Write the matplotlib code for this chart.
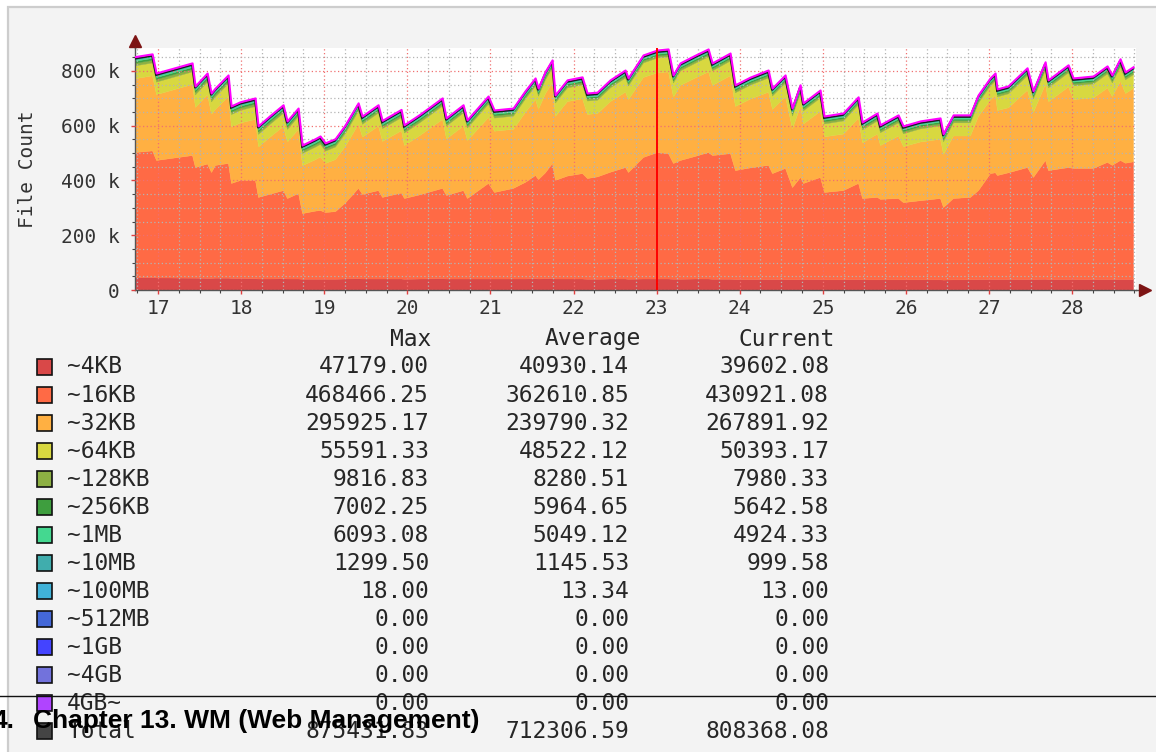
import numpy as np
import matplotlib
matplotlib.use("Agg")
import matplotlib.pyplot as plt
from matplotlib import transforms
from matplotlib.patches import Rectangle
from matplotlib.lines import Line2D
from matplotlib.ticker import MultipleLocator, FuncFormatter

W, H, DPI = 1156, 752, 100

# ---- time axis (day of month) ----
days = [16.723, 16.928, 16.976, 17.409, 17.445, 17.590, 17.638, 17.686, 17.842, 17.878, 17.987, 18.167,
        18.203, 18.348, 18.504, 18.552, 18.685, 18.733, 18.889, 18.949, 19.010, 19.130, 19.250, 19.407,
        19.455, 19.647, 19.696, 19.924, 19.960, 20.153, 20.418, 20.466, 20.670, 20.718, 20.971, 21.043,
        21.272, 21.416, 21.537, 21.573, 21.657, 21.741, 21.777, 21.922, 22.102, 22.162, 22.283, 22.439,
        22.620, 22.656, 22.836, 23.005, 23.137, 23.197, 23.282, 23.462, 23.619, 23.667, 23.883, 23.943,
        24.124, 24.341, 24.389, 24.545, 24.629, 24.726, 24.762, 24.966, 25.014, 25.243, 25.424, 25.472,
        25.652, 25.688, 25.905, 25.965, 26.170, 26.410, 26.447, 26.567, 26.771, 26.868, 27.012, 27.072,
        27.096, 27.229, 27.457, 27.529, 27.674, 27.710, 27.951, 28.011, 28.252, 28.420, 28.478, 28.576,
        28.637, 28.733]

# ---- file counts, in thousands ----
total = [845, 855, 785, 822, 738, 785, 712, 730, 778, 665, 680, 694,
         592, 630, 669, 610, 657, 522, 545, 555, 530, 545, 595, 676,
         628, 669, 612, 652, 596, 635, 694, 621, 669, 614, 701, 650,
         657, 720, 767, 730, 790, 833, 705, 760, 771, 712, 715, 760,
         796, 767, 851, 869, 873, 778, 822, 850, 873, 822, 858, 742,
         770, 796, 730, 778, 657, 742, 676, 723, 628, 639, 698, 606,
         639, 596, 632, 592, 610, 621, 563, 632, 632, 705, 767, 785,
         727, 738, 804, 720, 826, 760, 815, 767, 774, 811, 778, 837,
         789, 808]

kb4 = [46, 47, 46, 45, 45, 44, 44, 45, 45, 44, 44, 43,
       42, 42, 43, 42, 42, 41, 41, 41, 41, 41, 42, 43,
       42, 42, 42, 42, 41, 42, 43, 42, 42, 42, 42, 42,
       42, 42, 43, 42, 43, 44, 42, 42, 42, 41, 41, 42,
       42, 41, 42, 42, 42, 41, 41, 42, 42, 41, 41, 40,
       40, 40, 40, 40, 39, 40, 40, 40, 39, 39, 40, 39,
       39, 39, 39, 39, 39, 39, 38, 39, 39, 40, 40, 40,
       40, 40, 40, 40, 41, 40, 40, 40, 40, 40, 40, 40,
       40, 40]

kb16 = [458, 463, 429, 448, 404, 418, 387, 412, 419, 347, 358, 359,
        298, 310, 322, 294, 312, 240, 249, 251, 244, 247, 278, 330,
        309, 323, 298, 314, 295, 308, 330, 305, 323, 294, 349, 316,
        331, 353, 377, 363, 387, 420, 360, 376, 385, 368, 374, 390,
        407, 390, 444, 462, 458, 423, 434, 448, 462, 452, 459, 398,
        408, 417, 387, 406, 337, 373, 351, 373, 319, 326, 351, 297,
        301, 294, 297, 282, 289, 297, 265, 297, 301, 325, 387, 390,
        380, 390, 409, 373, 434, 398, 409, 406, 406, 428, 417, 435,
        425, 430]

kb64 = [47, 47, 46, 46, 46, 47, 45, 46, 47, 45, 46, 47,
        46, 47, 48, 46, 47, 45, 46, 46, 45, 46, 47, 48,
        47, 48, 47, 48, 46, 47, 49, 47, 48, 46, 49, 48,
        48, 49, 50, 48, 51, 53, 49, 50, 51, 49, 49, 50,
        52, 50, 53, 54, 55, 52, 53, 54, 55, 53, 54, 50,
        51, 52, 49, 50, 47, 49, 48, 49, 47, 48, 49, 47,
        48, 47, 48, 47, 48, 49, 46, 48, 48, 49, 51, 52,
        50, 51, 53, 50, 53, 51, 52, 50, 51, 52, 50, 53,
        50, 50]

kb128 = [9.8, 9.7, 9.6, 9.5, 9.4, 9.3, 9.3, 9.2, 9.1, 9.0, 9.0, 8.9,
         8.9, 8.8, 8.8, 8.7, 8.7, 8.6, 8.6, 8.6, 8.5, 8.5, 8.5, 8.4,
         8.4, 8.4, 8.3, 8.3, 8.3, 8.3, 8.2, 8.2, 8.2, 8.2, 8.1, 8.1,
         8.1, 8.1, 8.1, 8.0, 8.0, 8.0, 8.0, 8.0, 8.0, 7.9, 7.9, 7.9,
         7.9, 7.9, 7.9, 7.9, 7.9, 7.9, 7.9, 7.9, 7.9, 7.9, 7.9, 7.9,
         7.9, 7.9, 7.9, 7.9, 7.9, 8.0, 8.0, 8.0, 8.0, 8.0, 8.0, 8.0,
         8.0, 8.0, 8.0, 8.0, 8.0, 8.0, 8.0, 8.0, 8.0, 8.0, 8.0, 8.0,
         8.0, 8.0, 8.0, 8.0, 8.0, 8.0, 8.0, 8.0, 8.0, 8.0, 8.0, 8.0,
         8.0, 8.0]

kb256 = [7.0, 6.9, 6.9, 6.8, 6.8, 6.7, 6.7, 6.6, 6.6, 6.5, 6.5, 6.4,
         6.4, 6.4, 6.3, 6.3, 6.3, 6.2, 6.2, 6.2, 6.1, 6.1, 6.1, 6.1,
         6.0, 6.0, 6.0, 6.0, 6.0, 5.9, 5.9, 5.9, 5.9, 5.9, 5.9, 5.8,
         5.8, 5.8, 5.8, 5.8, 5.8, 5.8, 5.8, 5.8, 5.7, 5.7, 5.7, 5.7,
         5.7, 5.7, 5.7, 5.7, 5.7, 5.7, 5.7, 5.7, 5.7, 5.7, 5.7, 5.7,
         5.7, 5.7, 5.7, 5.7, 5.7, 5.7, 5.6, 5.6, 5.6, 5.6, 5.6, 5.6,
         5.6, 5.6, 5.6, 5.6, 5.6, 5.6, 5.6, 5.6, 5.6, 5.6, 5.6, 5.6,
         5.6, 5.6, 5.6, 5.6, 5.6, 5.6, 5.6, 5.6, 5.6, 5.6, 5.6, 5.6,
         5.6, 5.6]

mb1 = [6.1, 6.0, 5.9, 5.8, 5.7, 5.6, 5.5, 5.5, 5.4, 5.4, 5.3, 5.3,
       5.2, 5.2, 5.2, 5.1, 5.1, 5.1, 5.1, 5.0, 5.0, 5.0, 5.0, 5.0,
       5.0, 5.0, 5.0, 5.0, 5.0, 5.0, 5.0, 5.0, 5.0, 5.0, 5.0, 5.0,
       5.0, 5.0, 5.0, 5.0, 5.0, 5.0, 5.0, 5.0, 5.0, 5.0, 5.0, 5.0,
       5.0, 5.0, 5.0, 5.0, 5.0, 5.0, 5.0, 4.9, 4.9, 4.9, 4.9, 4.9,
       4.9, 4.9, 4.9, 4.9, 4.9, 4.9, 4.9, 4.9, 4.9, 4.9, 4.9, 4.9,
       4.9, 4.9, 4.9, 4.9, 4.9, 4.9, 4.9, 4.9, 4.9, 4.9, 4.9, 4.9,
       4.9, 4.9, 4.9, 4.9, 4.9, 4.9, 4.9, 4.9, 4.9, 4.9, 4.9, 4.9,
       4.9, 4.9]

mb10 = [1.3, 1.3, 1.3, 1.3, 1.3, 1.3, 1.3, 1.3, 1.3, 1.3, 1.2, 1.2,
        1.2, 1.2, 1.2, 1.2, 1.2, 1.2, 1.2, 1.2, 1.2, 1.2, 1.2, 1.2,
        1.2, 1.2, 1.2, 1.2, 1.2, 1.2, 1.2, 1.2, 1.2, 1.2, 1.2, 1.2,
        1.2, 1.2, 1.2, 1.2, 1.1, 1.1, 1.1, 1.1, 1.1, 1.1, 1.1, 1.1,
        1.1, 1.1, 1.1, 1.1, 1.1, 1.1, 1.1, 1.1, 1.1, 1.1, 1.1, 1.1,
        1.1, 1.1, 1.1, 1.1, 1.1, 1.1, 1.1, 1.1, 1.1, 1.1, 1.0, 1.0,
        1.0, 1.0, 1.0, 1.0, 1.0, 1.0, 1.0, 1.0, 1.0, 1.0, 1.0, 1.0,
        1.0, 1.0, 1.0, 1.0, 1.0, 1.0, 1.0, 1.0, 1.0, 1.0, 1.0, 1.0,
        1.0, 1.0]

mb100 = [0.018, 0.018, 0.018, 0.018, 0.018, 0.015, 0.015, 0.015, 0.015, 0.015, 0.015, 0.015,
         0.015, 0.015, 0.015, 0.015, 0.015, 0.015, 0.015, 0.015, 0.015, 0.015, 0.015, 0.015,
         0.015, 0.013, 0.013, 0.013, 0.013, 0.013, 0.013, 0.013, 0.013, 0.013, 0.013, 0.013,
         0.013, 0.013, 0.013, 0.013, 0.013, 0.013, 0.013, 0.013, 0.013, 0.013, 0.013, 0.013,
         0.013, 0.013, 0.013, 0.013, 0.013, 0.013, 0.013, 0.013, 0.013, 0.013, 0.013, 0.013,
         0.013, 0.013, 0.013, 0.013, 0.013, 0.013, 0.013, 0.013, 0.013, 0.013, 0.013, 0.013,
         0.013, 0.013, 0.013, 0.013, 0.013, 0.013, 0.013, 0.013, 0.013, 0.013, 0.013, 0.013,
         0.013, 0.013, 0.013, 0.013, 0.013, 0.013, 0.013, 0.013, 0.013, 0.013, 0.013, 0.013,
         0.013, 0.013]

marker_day = 23

# ---- legend table ----
series_names = ["~4KB", "~16KB", "~32KB", "~64KB", "~128KB", "~256KB", "~1MB",
                "~10MB", "~100MB", "~512MB", "~1GB", "~4GB", "4GB~", "Total"]
series_colors = ["#d94848", "#ff6a45", "#ffb042", "#d8d840", "#8db043", "#3e9e3e",
                 "#44d890", "#40adad", "#40b2d8", "#4468d8", "#4444ff", "#7272dc",
                 "#b044ff", "#444444"]
max_vals = [47179.00, 468466.25, 295925.17, 55591.33, 9816.83, 7002.25, 6093.08,
            1299.50, 18.00, 0.00, 0.00, 0.00, 0.00, 875431.83]
avg_vals = [40930.14, 362610.85, 239790.32, 48522.12, 8280.51, 5964.65, 5049.12,
            1145.53, 13.34, 0.00, 0.00, 0.00, 0.00, 712306.59]
cur_vals = [39602.08, 430921.08, 267891.92, 50393.17, 7980.33, 5642.58, 4924.33,
            999.58, 13.00, 0.00, 0.00, 0.00, 0.00, 808368.08]

MONO = "DejaVu Sans Mono"


def fx(px):
    return px / W


def fy(py):
    return 1.0 - py / H


fig = plt.figure(figsize=(W / DPI, H / DPI), dpi=DPI, facecolor="white")

# panel background with its border
fig.add_artist(Rectangle((fx(8), fy(775)), fx(1180 - 8), (775 - 7) / H,
                         transform=fig.transFigure, facecolor="#f3f3f3",
                         edgecolor="#cdcdcd", linewidth=1.6, zorder=-10))

ax = fig.add_axes([fx(135), fy(290), fx(1136 - 135), (290 - 48) / H])
ax.set_facecolor("white")

t = np.array(days)
tot = np.array(total, dtype=float)
small = [np.array(s, dtype=float) for s in (kb64, kb128, kb256, mb1, mb10, mb100)]
kb32 = tot - np.array(kb4) - np.array(kb16) - sum(small)
stack = [np.array(kb4, float), np.array(kb16, float), kb32] + small

ax.stackplot(t, *stack, colors=series_colors[:9], linewidth=0.3, zorder=1)
for coll, c in zip(ax.collections, series_colors[:9]):
    coll.set_edgecolor(c)

ax.plot(t, tot, color="#1c1c1c", lw=1.3, zorder=4, solid_joinstyle="miter")
shift = transforms.offset_copy(ax.transData, fig=fig, x=0.6, y=1.6, units="dots")
ax.plot(t, tot, color="#ff00ff", lw=1.5, zorder=4.5, transform=shift)

ax.axvline(marker_day, color="#ff0000", lw=1.4, zorder=5)

ax.set_xlim(16.723, 28.769)
ax.set_ylim(0, 884)

ax.xaxis.set_major_locator(MultipleLocator(1))
ax.xaxis.set_minor_locator(MultipleLocator(0.25))
ax.yaxis.set_major_locator(MultipleLocator(200))
ax.yaxis.set_minor_locator(MultipleLocator(50))
ax.xaxis.set_major_formatter(FuncFormatter(lambda v, p: f"{v:.0f}"))
ax.yaxis.set_major_formatter(FuncFormatter(lambda v, p: "0" if v == 0 else f"{v:.0f} k"))

ax.set_axisbelow(False)
ax.grid(which="minor", color="#b4b4b4", linestyle=(0, (1, 2)), linewidth=0.9)
ax.grid(which="major", color="#f07070", linestyle=(0, (1, 2)), linewidth=0.9)

ax.tick_params(which="major", direction="out", length=3, width=1, color="#e04040",
               labelsize=14, labelcolor="#333333")
ax.tick_params(which="minor", direction="out", length=2, width=0.8, color="#444444")
ax.tick_params(axis="x", which="major", pad=3.5)
ax.tick_params(axis="y", which="major", pad=8)
for lab in ax.get_xticklabels() + ax.get_yticklabels():
    lab.set_fontfamily(MONO)

for side in ("top", "right"):
    ax.spines[side].set_visible(False)
for side in ("left", "bottom"):
    ax.spines[side].set_color("#555555")
    ax.spines[side].set_linewidth(1.0)

# axis arrows
ax.plot([0, 0], [1.0, 1.02], color="#555555", lw=1.0, transform=ax.transAxes, clip_on=False)
ax.plot([1.0, 1.006], [0, 0], color="#555555", lw=1.0, transform=ax.transAxes, clip_on=False)
ax.plot([0], [1.028], marker="^", ms=8, color="#7d1414", transform=ax.transAxes, clip_on=False)
ax.plot([1.009], [0], marker=">", ms=8, color="#7d1414", transform=ax.transAxes, clip_on=False)

ax.set_ylabel("File Count", fontfamily=MONO, fontsize=14, color="#333333")
ax.yaxis.set_label_coords((37 - 135) / (1136 - 135), 0.5)

# legend with statistics
LEG = dict(fontfamily=MONO, fontsize=16.5, color="#262626", va="center", zorder=5)
fig.text(fx(431), fy(339), "Max", ha="right", **LEG)
fig.text(fx(641), fy(339), "Average", ha="right", **LEG)
fig.text(fx(835), fy(339), "Current", ha="right", **LEG)
for i, name in enumerate(series_names):
    yc = 367 + 28 * i
    fig.add_artist(Rectangle((fx(37), fy(yc + 8)), fx(15), 16 / H, transform=fig.transFigure,
                             facecolor=series_colors[i], edgecolor="#111111",
                             linewidth=1.2, zorder=5))
    fig.text(fx(67), fy(yc), name, ha="left", **LEG)
    fig.text(fx(429), fy(yc), f"{max_vals[i]:.2f}", ha="right", **LEG)
    fig.text(fx(629), fy(yc), f"{avg_vals[i]:.2f}", ha="right", **LEG)
    fig.text(fx(829), fy(yc), f"{cur_vals[i]:.2f}", ha="right", **LEG)

# page footer
fig.add_artist(Line2D([0, 1], [fy(695.5), fy(695.5)], transform=fig.transFigure,
                      color="#111111", lw=1.0, zorder=20))
FOOT = dict(fontfamily="Liberation Sans", fontweight="bold", fontsize=19,
            color="black", va="baseline", ha="left", zorder=21)
fig.text(fx(-7), fy(728), "4.", **FOOT)
fig.text(fx(33), fy(728), "Chapter 13. WM (Web Management)", **FOOT)

fig.savefig("out.png", dpi=DPI, facecolor="white")
